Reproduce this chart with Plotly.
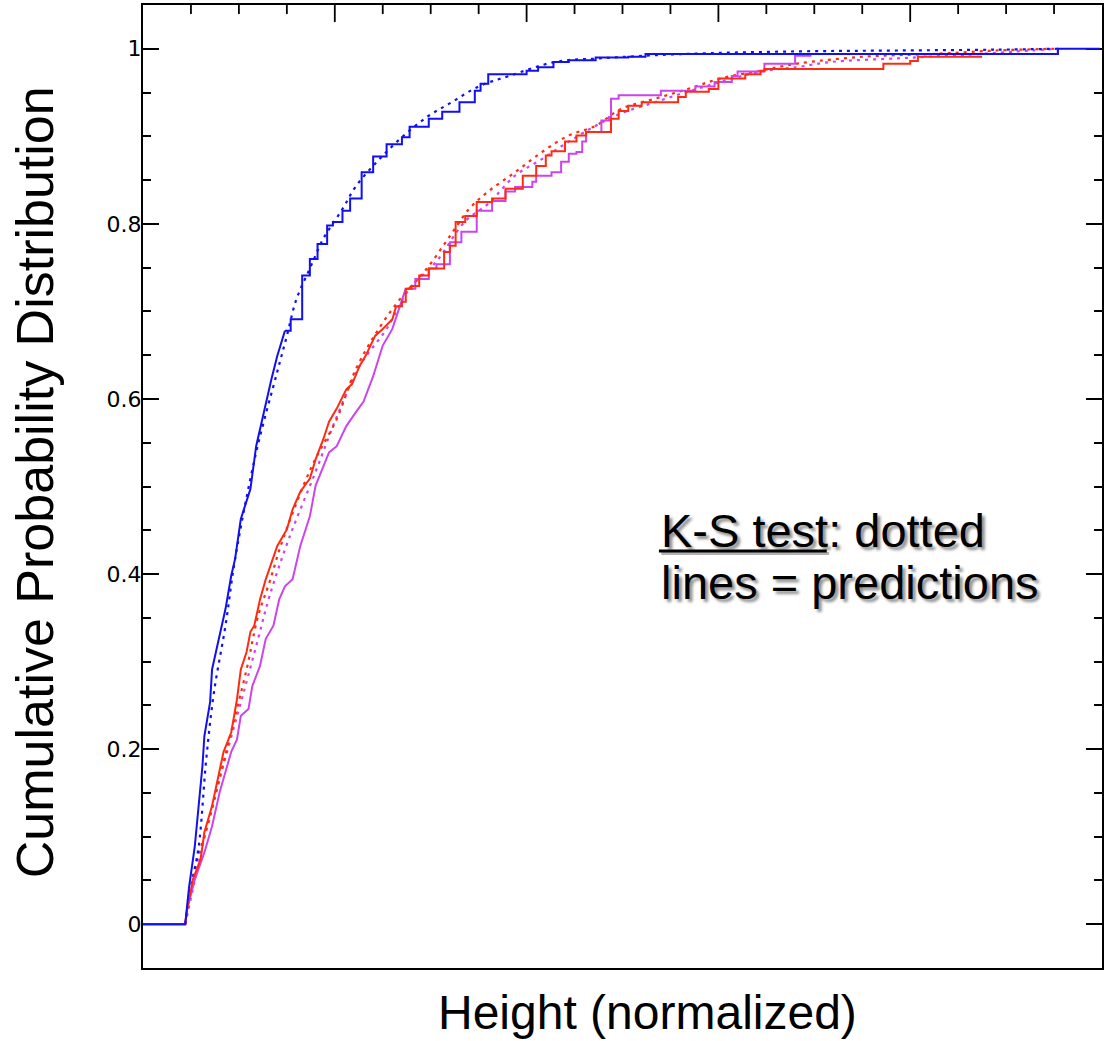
import plotly.graph_objects as go

# ---- data (x in normalized-height units, y = cumulative probability) ----
blue_obs_x = [0, 0.22, 0.24, 0.27, 0.29, 0.31, 0.32, 0.35, 0.36, 0.40,
              0.43, 0.46, 0.48, 0.51, 0.56, 0.59, 0.63, 0.67, 0.70, 0.74,
              0.77, 0.83, 0.87, 0.91, 0.96, 0.99, 1.04, 1.08, 1.14, 1.20,
              1.27, 1.35, 1.39, 1.49, 1.56, 1.65, 1.73, 1.76, 1.80, 2.00,
              2.06, 2.14, 2.22, 2.36, 2.53, 2.62, 4.77, 4.99]
blue_obs_y = [0, 0, 0.042, 0.089, 0.135, 0.181, 0.215, 0.254, 0.291, 0.329,
              0.360, 0.398, 0.417, 0.463, 0.497, 0.546, 0.585, 0.623, 0.649, 0.678,
              0.691, 0.741, 0.760, 0.777, 0.798, 0.802, 0.815, 0.829, 0.859, 0.877,
              0.891, 0.899, 0.911, 0.920, 0.928, 0.939, 0.952, 0.960, 0.971, 0.975,
              0.979, 0.985, 0.987, 0.990, 0.991, 0.994, 1.0, 1.0]

blue_pred_x = [0.22, 0.25, 0.29, 0.33, 0.37, 0.43, 0.48, 0.59, 0.70, 0.75,
               0.80, 0.87, 0.94, 1.04, 1.11, 1.22, 1.34, 1.48, 1.61, 1.75,
               1.91, 2.15, 2.38, 2.81, 3.41, 3.93, 4.45, 4.77]
blue_pred_y = [0, 0.042, 0.088, 0.189, 0.265, 0.341, 0.417, 0.539, 0.631, 0.672,
               0.714, 0.749, 0.783, 0.817, 0.843, 0.871, 0.897, 0.922, 0.939, 0.957,
               0.969, 0.985, 0.989, 0.994, 0.997, 0.998, 0.999, 1.0]

red_obs_x = [0, 0.22, 0.23, 0.26, 0.30, 0.32, 0.36, 0.39, 0.42, 0.46,
             0.49, 0.51, 0.54, 0.56, 0.58, 0.61, 0.64, 0.70, 0.75, 0.78,
             0.82, 0.87, 0.90, 0.94, 0.97, 1.01, 1.06, 1.09, 1.13, 1.16,
             1.21, 1.25, 1.30, 1.32, 1.35, 1.37, 1.40, 1.44, 1.49, 1.57,
             1.60, 1.63, 1.68, 1.74, 1.82, 1.89, 1.98, 2.05, 2.10, 2.13,
             2.20, 2.26, 2.31, 2.44, 2.48, 2.53, 2.60, 2.79, 2.83, 2.95,
             3.00, 3.14, 3.22, 3.24, 3.86, 4.00, 4.04, 4.37]
red_obs_y = [0, 0, 0.017, 0.051, 0.074, 0.105, 0.135, 0.166, 0.197, 0.219,
             0.257, 0.291, 0.311, 0.334, 0.341, 0.371, 0.394, 0.432, 0.451, 0.474,
             0.494, 0.509, 0.531, 0.554, 0.574, 0.589, 0.611, 0.617, 0.638, 0.649,
             0.672, 0.680, 0.691, 0.706, 0.711, 0.726, 0.729, 0.741, 0.749, 0.768,
             0.775, 0.802, 0.809, 0.825, 0.829, 0.840, 0.855, 0.866, 0.878, 0.883,
             0.894, 0.901, 0.905, 0.920, 0.929, 0.935, 0.939, 0.945, 0.951, 0.954,
             0.966, 0.971, 0.975, 0.977, 0.983, 0.986, 0.991, 0.992]

red_pred_x = [0.22, 0.27, 0.35, 0.44, 0.54, 0.60, 0.66, 0.73, 0.88, 1.01,
              1.11, 1.22, 1.34, 1.48, 1.60, 1.70, 1.80, 1.94, 2.08, 2.22,
              2.36, 2.49, 2.67, 2.84, 3.01, 3.22, 3.41, 3.76, 4.11, 4.45, 4.75]
red_pred_y = [0, 0.063, 0.123, 0.203, 0.291, 0.352, 0.391, 0.440, 0.523, 0.577,
              0.634, 0.677, 0.714, 0.749, 0.786, 0.817, 0.837, 0.859, 0.882, 0.901,
              0.912, 0.931, 0.943, 0.954, 0.966, 0.975, 0.983, 0.991, 0.994, 0.998, 1.0]

mag_obs_x = [0, 0.22, 0.23, 0.27, 0.32, 0.36, 0.40, 0.44, 0.46, 0.49,
             0.51, 0.55, 0.57, 0.61, 0.64, 0.68, 0.71, 0.74, 0.78, 0.82,
             0.87, 0.90, 0.97, 1.01, 1.06, 1.11, 1.15, 1.20, 1.25, 1.30,
             1.37, 1.42, 1.49, 1.53, 1.60, 1.66, 1.74, 1.82, 1.89, 1.94,
             2.03, 2.05, 2.13, 2.18, 2.22, 2.26, 2.29, 2.31, 2.39, 2.43,
             2.44, 2.48, 2.70, 2.88, 2.98, 3.07, 3.10, 3.24, 3.40, 3.48, 4.77]
mag_obs_y = [0, 0, 0.017, 0.051, 0.082, 0.112, 0.151, 0.181, 0.197, 0.211,
             0.238, 0.246, 0.272, 0.295, 0.326, 0.341, 0.371, 0.386, 0.394, 0.432,
             0.466, 0.501, 0.539, 0.546, 0.569, 0.585, 0.597, 0.626, 0.661, 0.680,
             0.726, 0.737, 0.749, 0.754, 0.779, 0.791, 0.815, 0.826, 0.837, 0.842,
             0.848, 0.855, 0.859, 0.871, 0.880, 0.882, 0.894, 0.905, 0.918, 0.922,
             0.943, 0.947, 0.952, 0.957, 0.962, 0.969, 0.974, 0.983, 0.992, 0.994, 1.0]

mag_pred_x = [0.22, 0.31, 0.37, 0.45, 0.53, 0.60, 0.66, 0.76, 0.90, 1.02,
              1.13, 1.27, 1.39, 1.53, 1.68, 1.80, 1.94, 2.08, 2.22, 2.36,
              2.49, 2.67, 2.84, 3.01, 3.22, 3.41, 3.59, 3.93, 4.28, 4.63, 4.77]
mag_pred_y = [0, 0.089, 0.143, 0.206, 0.269, 0.326, 0.375, 0.440, 0.517, 0.585,
              0.638, 0.680, 0.726, 0.757, 0.803, 0.823, 0.855, 0.874, 0.894, 0.912,
              0.926, 0.939, 0.951, 0.962, 0.974, 0.979, 0.985, 0.989, 0.993, 0.998, 1.0]

y_tick_vals = [0, 0.2, 0.4, 0.6, 0.8, 1.0]
y_tick_text = ["0", "0.2", "0.4", "0.6", "0.8", "1"]
x_major_ticks = [1, 2, 3, 4]
x_minor_ticks = [0.25, 0.5, 0.75, 1.25, 1.5, 1.75, 2.25, 2.5, 2.75,
                 3.25, 3.5, 3.75, 4.25, 4.5, 4.75]

X_RANGE = [0, 5]
Y_RANGE = [-0.05, 1.05]

BLUE = "#1010f0"
RED = "#ff2a10"
MAG = "#cc44ee"

fig = go.Figure()
DOT = "3px,5px"
for px_, py_, col in [(mag_pred_x, mag_pred_y, MAG), (red_pred_x, red_pred_y, RED),
                      (blue_pred_x, blue_pred_y, BLUE)]:
    fig.add_trace(go.Scatter(x=px_, y=py_, mode="lines", hoverinfo="skip",
                             line=dict(color=col, width=2.2, dash=DOT, shape="spline")))


def add_obs(xs, ys, col, thr):
    # steep lower part: many tiny steps -> drawn as a jagged line; upper tail: visible steps
    k = next(i for i, v in enumerate(ys) if v > thr)
    fig.add_trace(go.Scatter(x=xs[:k + 1], y=ys[:k + 1], mode="lines", hoverinfo="skip",
                             line=dict(color=col, width=2, shape="linear")))
    fig.add_trace(go.Scatter(x=xs[k:], y=ys[k:], mode="lines", hoverinfo="skip",
                             line=dict(color=col, width=2, shape="hv")))


add_obs(mag_obs_x, mag_obs_y, MAG, 0.70)
add_obs(red_obs_x, red_obs_y, RED, 0.70)
add_obs(blue_obs_x, blue_obs_y, BLUE, 0.66)

# tick marks along the top edge, drawn as a line trace hanging down from the top of the y range
PX_PER_Y = 963 / (Y_RANGE[1] - Y_RANGE[0])
tx, ty = [], []
for v, ln in [(v, 17) for v in x_major_ticks] + [(v, 9) for v in x_minor_ticks]:
    tx += [v, v, None]
    ty += [Y_RANGE[1], Y_RANGE[1] - ln / PX_PER_Y, None]
fig.add_trace(go.Scatter(x=tx, y=ty, mode="lines", hoverinfo="skip", cliponaxis=False,
                         line=dict(color="black", width=1.8)))

fig.update_layout(
    width=1106, height=1041,
    margin=dict(l=143, r=2, t=5, b=73),
    plot_bgcolor="white", paper_bgcolor="white",
    showlegend=False,
    font=dict(family="Liberation Sans, Arial, sans-serif", color="black"),
    xaxis=dict(range=X_RANGE, side="bottom", showline=True, linecolor="black", linewidth=2,
               mirror=True, ticks="", showticklabels=False, showgrid=False, zeroline=False),
    yaxis=dict(range=Y_RANGE, showline=True, linecolor="black", linewidth=2,
               mirror="ticks", ticks="inside", ticklen=16, tickwidth=1.8, tickcolor="black",
               tickvals=y_tick_vals, ticktext=y_tick_text,
               tickfont=dict(family="DejaVu Sans", size=22, color="black"),
               ticklabelstandoff=-5, layer="below traces",
               showgrid=False, zeroline=False,
               minor=dict(ticks="inside", ticklen=8, tickwidth=1.8, tickcolor="black",
                          tick0=0, dtick=0.05, showgrid=False)),
)

shadow = "3px 3px 3px rgba(0,0,0,0.45)"
fig.add_annotation(text="Cumulative Probability Distribution", xref="paper", yref="paper",
                   x=-0.1124, y=0.5047, xanchor="center", yanchor="middle", textangle=-90,
                   showarrow=False, font=dict(family="Liberation Sans", size=52, color="black"))
fig.add_annotation(text="Height (normalized)", xref="paper", yref="paper",
                   x=0.526, y=-0.0457, xanchor="center", yanchor="middle",
                   showarrow=False, font=dict(family="Liberation Sans", size=48, color="black"))
fig.add_annotation(text="K-S test: dotted",
                   xref="paper", yref="paper", x=0.538, y=0.4548, xanchor="left", yanchor="middle",
                   showarrow=False,
                   font=dict(family="Liberation Sans", size=47, color="black", shadow=shadow))
fig.add_annotation(text="lines = predictions",
                   xref="paper", yref="paper", x=0.538, y=0.3998, xanchor="left", yanchor="middle",
                   showarrow=False,
                   font=dict(family="Liberation Sans", size=47, color="black", shadow=shadow))
# underline of "K-S test"
fig.add_shape(type="line", xref="paper", yref="paper", x0=0.5405, x1=0.7155, y0=0.4305, y1=0.4305,
              line=dict(color="rgba(0,0,0,0.3)", width=3))
fig.add_shape(type="line", xref="paper", yref="paper", x0=0.538, x1=0.713, y0=0.433, y1=0.433,
              line=dict(color="black", width=3))

fig.write_html("out.html")
